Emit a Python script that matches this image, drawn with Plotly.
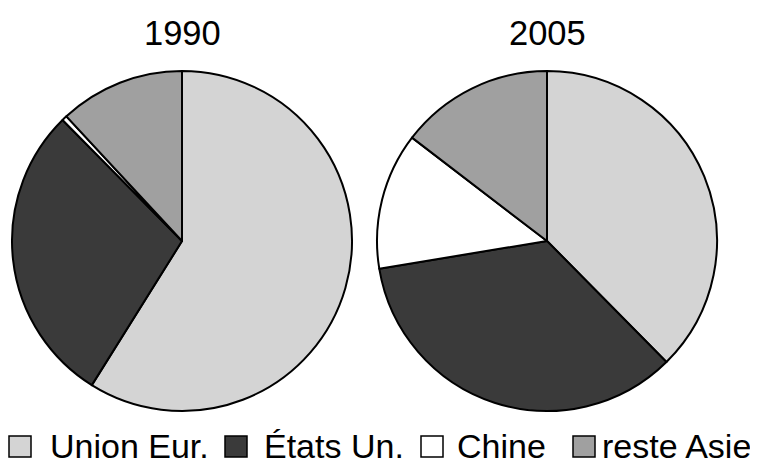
import plotly.graph_objects as go

categories = ["Union Eur.", "États Un.", "Chine", "reste Asie"]
values_1990 = [58.9, 28.7, 0.5, 11.9]
values_2005 = [37.6, 34.8, 13.0, 14.6]
years = ["1990", "2005"]
colors = ["#d4d4d4", "#3a3a3a", "#ffffff", "#a0a0a0"]

W, H = 758, 466
OX, OY = 8, 8  # page body margin compensation


def px(x):
    return (x - OX) / W


def py(y):
    return 1 - (y - OY) / H


fig = go.Figure()
domains = [
    dict(x=[px(12), px(352)], y=[py(411), py(71)]),
    dict(x=[px(377), px(717)], y=[py(411), py(71)]),
]
for vals, dom in zip([values_1990, values_2005], domains):
    fig.add_trace(go.Pie(
        labels=categories, values=vals, sort=False, direction="clockwise",
        rotation=0, textinfo="none", hoverinfo="label+percent",
        marker=dict(colors=colors, line=dict(color="black", width=2)),
        domain=dom, showlegend=False,
    ))

title_x = [182, 547]
for yr, cx in zip(years, title_x):
    fig.add_annotation(text=yr, x=px(cx), y=py(33),
                       xref="paper", yref="paper", showarrow=False,
                       font=dict(size=34.5, color="black"), xanchor="center", yanchor="middle")

# legend drawn manually (squares + labels)
sq_left = [8, 224, 420, 572]
txt_left = [48, 262, 455, 600]
for cat, col, sl, tl in zip(categories, colors, sq_left, txt_left):
    fig.add_shape(type="rect", xref="paper", yref="paper",
                  x0=px(sl + 1), x1=px(sl + 23), y0=py(457), y1=py(436),
                  fillcolor=col, line=dict(color="black", width=1.5))
    fig.add_annotation(text=cat, x=px(tl), y=py(446), xref="paper", yref="paper",
                       showarrow=False, xanchor="left", yanchor="middle",
                       font=dict(size=34, color="black"))

fig.update_layout(
    width=W, height=H,
    margin=dict(l=0, r=0, t=0, b=0),
    paper_bgcolor="white", plot_bgcolor="white",
    font=dict(family="Liberation Sans, Arial, sans-serif", color="black"),
    showlegend=False,
)
fig.write_html("out.html")
